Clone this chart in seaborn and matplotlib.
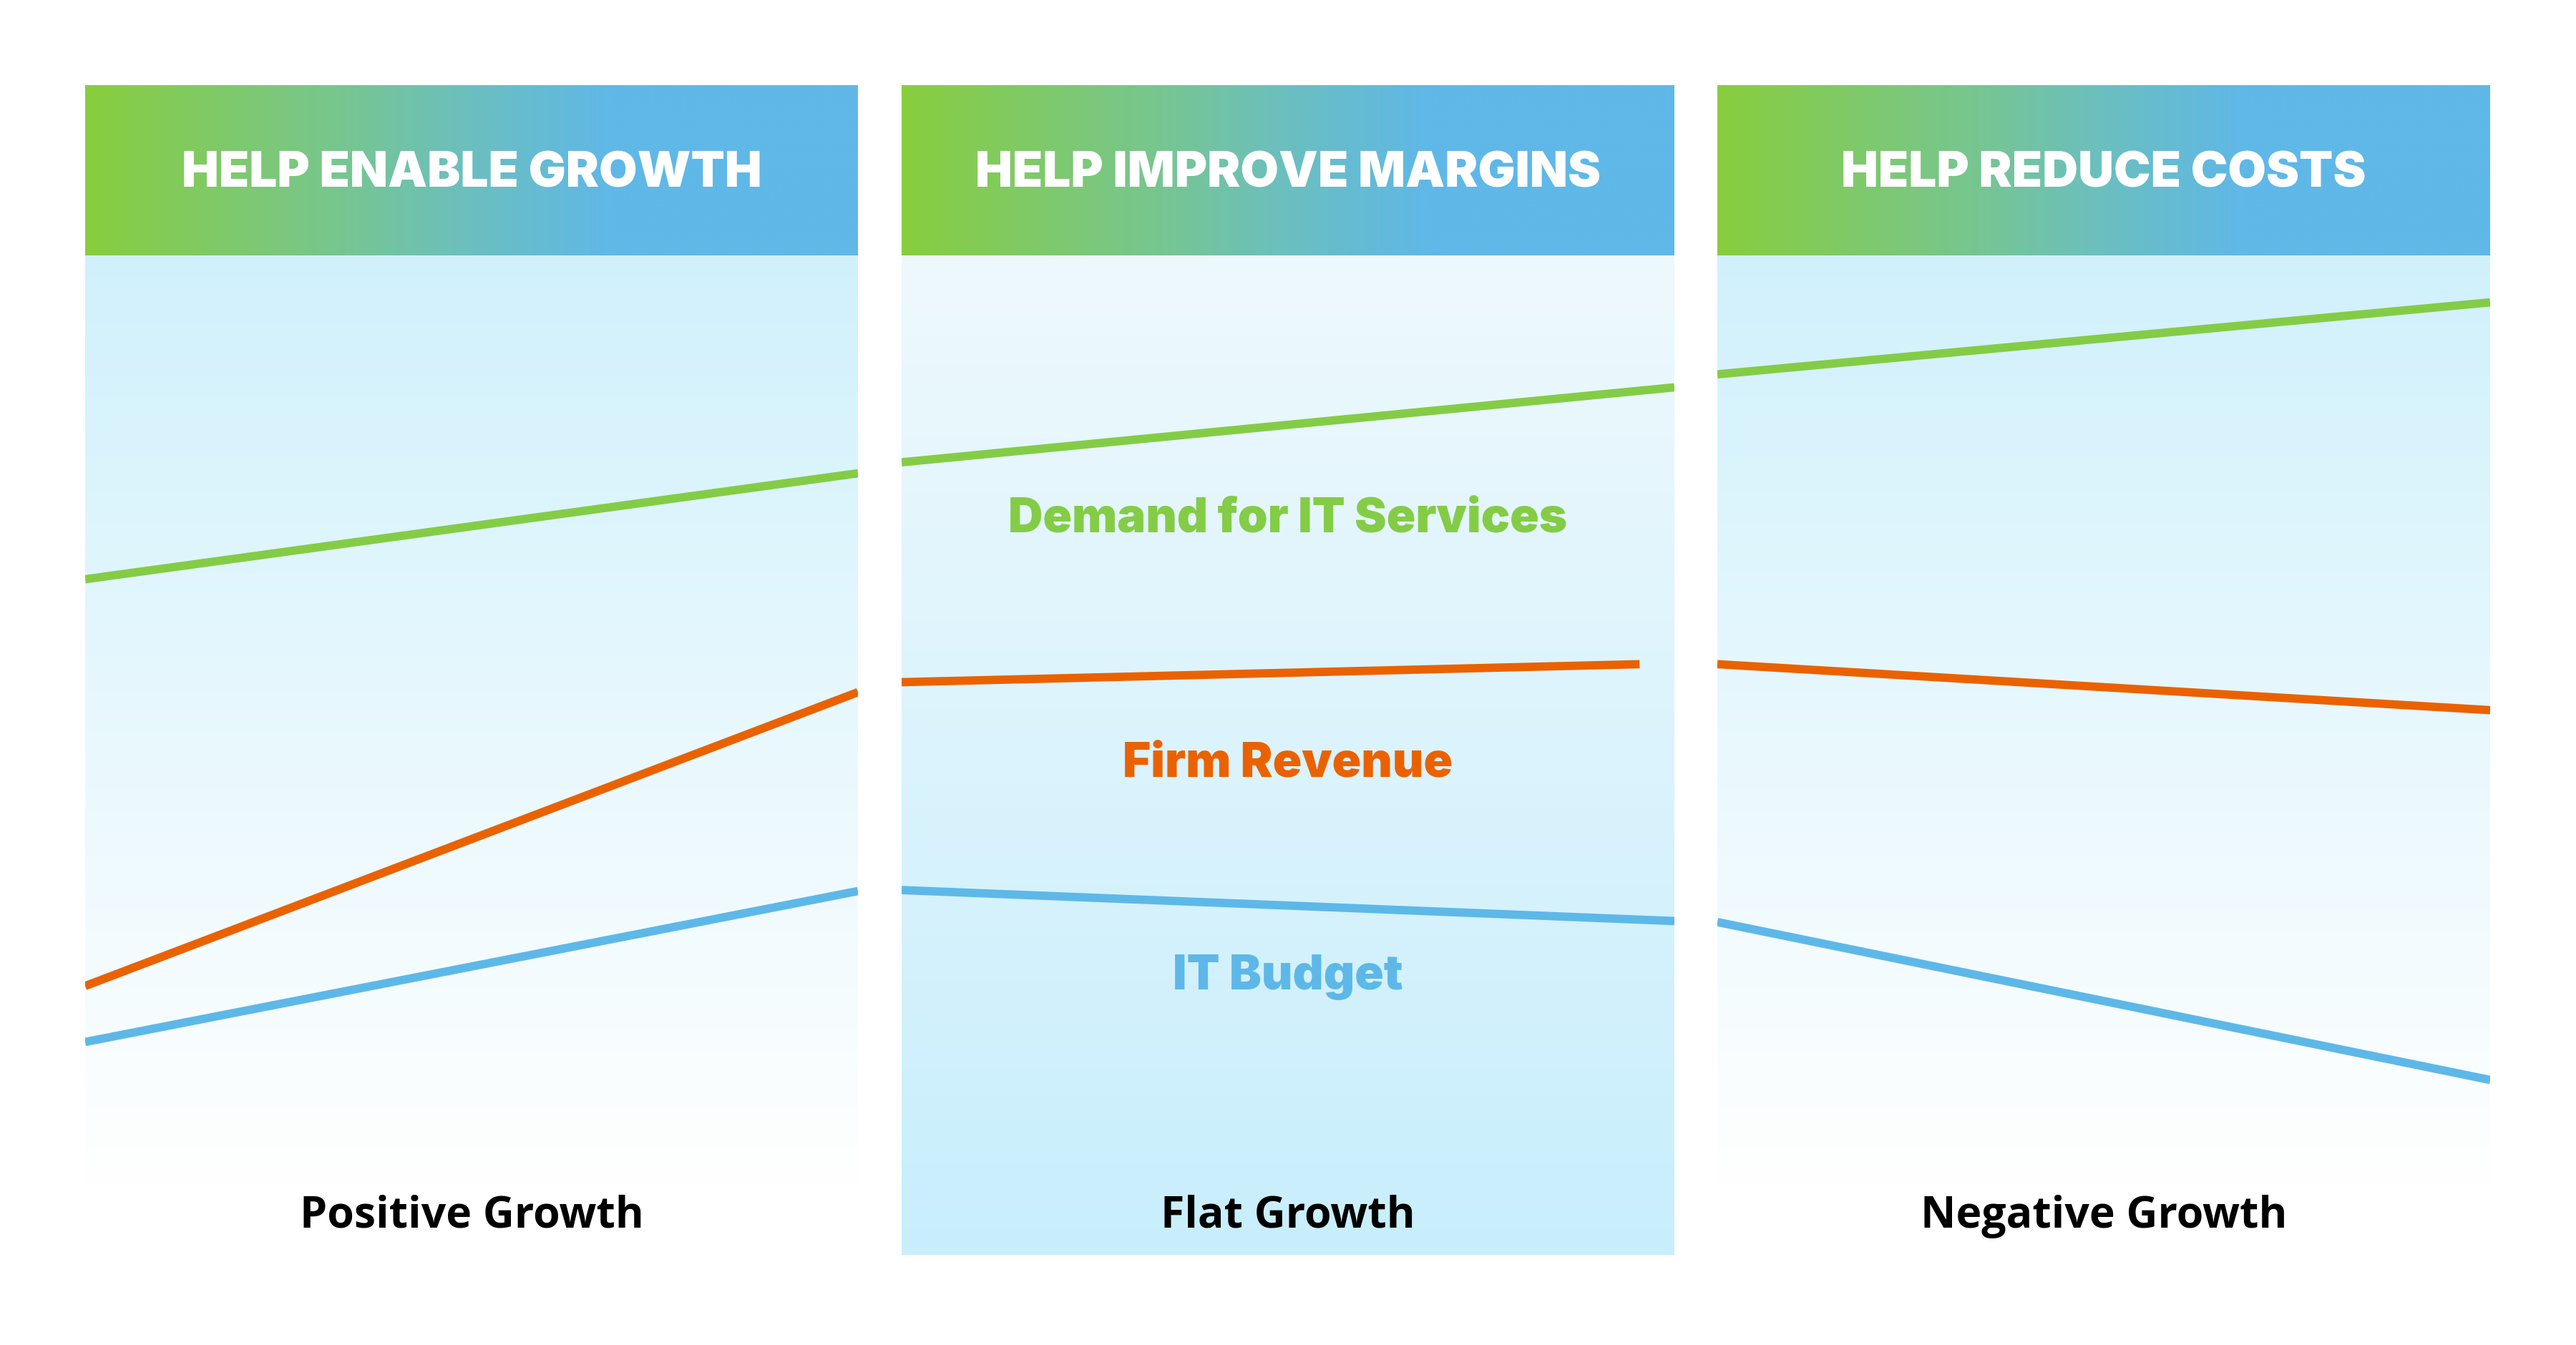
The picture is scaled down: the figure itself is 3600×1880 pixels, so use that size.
import numpy as np
import pandas as pd
import matplotlib
matplotlib.use("Agg")
import matplotlib.pyplot as plt
from matplotlib.colors import to_rgb
import seaborn as sns

# ---------------- data ----------------
panel_titles = ["HELP ENABLE GROWTH", "HELP IMPROVE MARGINS", "HELP REDUCE COSTS"]
scenarios = ["Positive Growth", "Flat Growth", "Negative Growth"]
series_names = ["Demand for IT Services", "Firm Revenue", "IT Budget"]

demand_start = [67.6, 79.3, 88.1]
demand_end = [78.2, 86.8, 95.3]
revenue_start = [26.9, 57.3, 59.1]
revenue_end = [56.3, 59.1, 54.5]
budget_start = [21.3, 36.5, 33.3]
budget_end = [36.4, 33.4, 17.5]
revenue_end_pos = [1.0, 0.955, 1.0]

# ---------------- style ----------------
sns.set_theme(style="white")
plt.rcParams["font.family"] = ["Inter", "DejaVu Sans"]

HEAD_FONT = ["Inter", "DejaVu Sans"]
LABEL_FONT = ["Open Sans", "DejaVu Sans"]

GREEN = "#84CC46"
ORANGE = "#EA6200"
BLUE = "#5DB8E8"
palette = {series_names[0]: GREEN, series_names[1]: ORANGE, series_names[2]: BLUE}

W, H = 3600, 1881
DPI = 300
fig = plt.figure(figsize=(W / DPI, H / DPI), dpi=DPI)
fig.patch.set_facecolor("white")

panel_left = [119, 1260, 2400]
panel_w = 1080
head_top, head_bot = 120, 358
body_bot = 1755


def fx(px):
    return px / W


def fy(py):
    return 1 - py / H


def vgrad(c_top, c_bot, top_level, bot_level, n=400):
    levels = np.linspace(100, 0, n)
    t = np.clip((top_level - levels) / (top_level - bot_level), 0, 1)[:, None]
    a = np.array(to_rgb(c_top))
    b = np.array(to_rgb(c_bot))
    img = a * (1 - t) + b * t
    return img[:, None, :]


def hgrad(stops, n=600):
    xs = np.linspace(0, 1, n)
    pos = [s[0] for s in stops]
    cols = np.array([to_rgb(s[1]) for s in stops])
    img = np.stack([np.interp(xs, pos, cols[:, k]) for k in range(3)], axis=1)
    return img[None, :, :]


records = []
for i in range(3):
    records += [
        dict(panel=i, series=series_names[0], pos=0.0, level=demand_start[i]),
        dict(panel=i, series=series_names[0], pos=1.0, level=demand_end[i]),
        dict(panel=i, series=series_names[1], pos=0.0, level=revenue_start[i]),
        dict(panel=i, series=series_names[1], pos=revenue_end_pos[i], level=revenue_end[i]),
        dict(panel=i, series=series_names[2], pos=0.0, level=budget_start[i]),
        dict(panel=i, series=series_names[2], pos=1.0, level=budget_end[i]),
    ]
df = pd.DataFrame(records)

header_stops = [(0.0, "#88CE3E"), (0.33, "#77C690"), (0.5, "#6BBFC0"), (0.68, "#5FB8E7"), (1.0, "#5FB8E7")]

for i in range(3):
    x0 = panel_left[i]
    # header
    hax = fig.add_axes([fx(x0), fy(head_bot), fx(panel_w), (head_bot - head_top) / H])
    hax.imshow(hgrad(header_stops), extent=[0, 1, 0, 1], aspect="auto")
    hax.set_xlim(0, 1)
    hax.set_ylim(0, 1)
    hax.set_axis_off()
    hax.text(0.5, (head_bot - 261) / (head_bot - head_top), panel_titles[i],
             ha="center", va="baseline", color="white", fontsize=16.6,
             fontweight=900, family=HEAD_FONT)

    # body
    bax = fig.add_axes([fx(x0), fy(body_bot), fx(panel_w), (body_bot - head_bot) / H])
    if i == 1:
        img = vgrad("#EEF9FD", "#C8EEFC", 100, 0)
    else:
        img = vgrad("#D0F1FC", "#FFFFFF", 100, 6.8)
    bax.imshow(img, extent=[0, 1, 0, 100], aspect="auto", zorder=0)

    sub = df[df.panel == i]
    sns.lineplot(data=sub, x="pos", y="level", hue="series", palette=palette,
                 hue_order=series_names, ax=bax, legend=False, linewidth=2.8,
                 estimator=None, sort=False, zorder=3,
                 solid_capstyle="butt")
    bax.set_xlim(0, 1)
    bax.set_ylim(0, 100)
    bax.set_axis_off()

    # bottom label
    bax.text(0.5, (body_bot - 1716) / (body_bot - head_bot) * 100, scenarios[i],
             ha="center", va="baseline", color="black", fontsize=14.6,
             fontweight="bold", family=LABEL_FONT)

    if i == 1:
        label_levels = [72.4, 47.9, 26.6]
        for name, lv in zip(series_names, label_levels):
            bax.text(0.5, lv, name, ha="center", va="baseline", color=palette[name],
                     fontsize=16.1, fontweight=900, family=HEAD_FONT)

fig.savefig("out.png", dpi=DPI, facecolor="white")
